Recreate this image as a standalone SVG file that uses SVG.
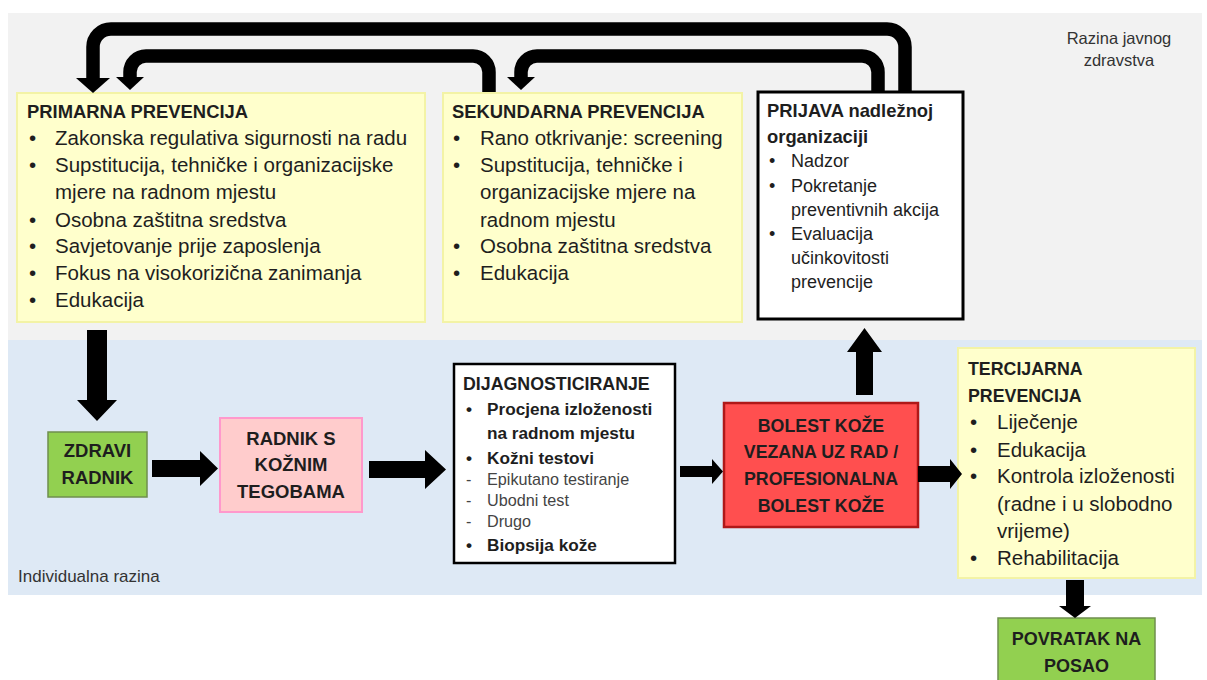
<svg xmlns="http://www.w3.org/2000/svg" width="1207" height="680" viewBox="0 0 1207 680">
<style>
text{font-family:"Liberation Sans",Arial,sans-serif;fill:#1e1e1e}
.t{font-weight:bold;font-size:18.4px}
.pt{font-weight:bold;font-size:18.4px}
.b{font-size:20.5px}
.s{font-size:18px}
.db{font-weight:bold;font-size:17.2px}
.dt{font-weight:bold;font-size:17.8px}
.sub{font-size:16.2px;fill:#444}
.c{font-weight:bold;font-size:18.5px;text-anchor:middle}
.lvl{font-size:16.5px;fill:#333}
.yel{fill:#FFFFCC;stroke:#F3F3A6;stroke-width:2}
.grn{fill:#92D050;stroke:#6F8F4E;stroke-width:1.5}
.pipe{fill:none;stroke:#000;stroke-width:13.5}
.hd{fill:#000}
</style>
<rect x="8" y="13" width="1194" height="327" fill="#F2F2F2"/>
<rect x="8" y="340" width="1194" height="255" fill="#DEE9F5"/>
<text class="lvl" x="1119" y="44" text-anchor="middle">Razina javnog</text>
<text class="lvl" x="1119" y="66" text-anchor="middle">zdravstva</text>
<text class="lvl" x="18" y="582" style="font-size:17px">Individualna razina</text>

<g id="primarna">
<rect class="yel" x="17" y="93" width="408" height="229"/>
<text class="t" x="27" y="118">PRIMARNA PREVENCIJA</text>
<text class="b" x="29" y="145">•</text><text class="b" x="55" y="145">Zakonska regulativa sigurnosti na radu</text>
<text class="b" x="29" y="172">•</text><text class="b" x="55" y="172">Supstitucija, tehničke i organizacijske</text>
<text class="b" x="55" y="199">mjere na radnom mjestu</text>
<text class="b" x="29" y="227">•</text><text class="b" x="55" y="227">Osobna zaštitna sredstva</text>
<text class="b" x="29" y="253">•</text><text class="b" x="55" y="253">Savjetovanje prije zaposlenja</text>
<text class="b" x="29" y="280">•</text><text class="b" x="55" y="280">Fokus na visokorizična zanimanja</text>
<text class="b" x="29" y="307">•</text><text class="b" x="55" y="307">Edukacija</text>
</g>

<g id="sekundarna">
<rect class="yel" x="443" y="93" width="299" height="229"/>
<text class="t" x="452" y="118">SEKUNDARNA PREVENCIJA</text>
<text class="b" x="453" y="145">•</text><text class="b" x="480" y="145">Rano otkrivanje: screening</text>
<text class="b" x="453" y="172">•</text><text class="b" x="480" y="172">Supstitucija, tehničke i</text>
<text class="b" x="480" y="199">organizacijske mjere na</text>
<text class="b" x="480" y="227">radnom mjestu</text>
<text class="b" x="453" y="253">•</text><text class="b" x="480" y="253">Osobna zaštitna sredstva</text>
<text class="b" x="453" y="280">•</text><text class="b" x="480" y="280">Edukacija</text>
</g>

<g id="prijava">
<rect x="758" y="92" width="205" height="227" fill="#fff" stroke="#000" stroke-width="3"/>
<text class="pt" x="767" y="117">PRIJAVA nadležnoj</text>
<text class="pt" x="767" y="143">organizaciji</text>
<text class="s" x="769" y="167">•</text><text class="s" x="791" y="167">Nadzor</text>
<text class="s" x="769" y="192">•</text><text class="s" x="791" y="192">Pokretanje</text>
<text class="s" x="791" y="216">preventivnih akcija</text>
<text class="s" x="769" y="240">•</text><text class="s" x="791" y="240">Evaluacija</text>
<text class="s" x="791" y="264">učinkovitosti</text>
<text class="s" x="791" y="288">prevencije</text>
</g>

<g id="zdravi">
<rect class="grn" x="48" y="432" width="99" height="65"/>
<text class="c" x="97.5" y="457">ZDRAVI</text>
<text class="c" x="97.5" y="484">RADNIK</text>
</g>

<g id="radnik">
<rect x="220" y="418" width="142" height="94" fill="#FFCCCC" stroke="#FF99CC" stroke-width="2"/>
<text class="c" x="291" y="445">RADNIK S</text>
<text class="c" x="291" y="471">KOŽNIM</text>
<text class="c" x="291" y="498">TEGOBAMA</text>
</g>

<g id="dijagnosticiranje">
<rect x="454" y="364" width="221" height="199" fill="#fff" stroke="#000" stroke-width="2.5"/>
<text class="dt" x="463" y="390">DIJAGNOSTICIRANJE</text>
<text class="db" x="466" y="415">•</text><text class="db" x="487" y="415">Procjena izloženosti</text>
<text class="db" x="487" y="439">na radnom mjestu</text>
<text class="db" x="466" y="464">•</text><text class="db" x="487" y="464">Kožni testovi</text>
<text class="sub" x="466" y="485">-</text><text class="sub" x="487" y="485">Epikutano testiranje</text>
<text class="sub" x="466" y="506">-</text><text class="sub" x="487" y="506">Ubodni test</text>
<text class="sub" x="466" y="527">-</text><text class="sub" x="487" y="527">Drugo</text>
<text class="db" x="466" y="551">•</text><text class="db" x="487" y="551">Biopsija kože</text>
</g>

<g id="bolest">
<rect x="724" y="403" width="194" height="124" fill="#FF4F4F" stroke="#B01818" stroke-width="2.5"/>
<text class="c" x="821" y="432" style="font-size:17.8px">BOLEST KOŽE</text>
<text class="c" x="821" y="458" style="font-size:17.8px">VEZANA UZ RAD /</text>
<text class="c" x="821" y="485" style="font-size:17.8px">PROFESIONALNA</text>
<text class="c" x="821" y="512" style="font-size:17.8px">BOLEST KOŽE</text>
</g>

<g id="tercijarna">
<rect class="yel" x="958" y="348" width="237" height="230"/>
<text class="dt" x="968" y="375">TERCIJARNA</text>
<text class="dt" x="968" y="402">PREVENCIJA</text>
<text class="b" x="970" y="429">•</text><text class="b" x="997" y="429">Liječenje</text>
<text class="b" x="970" y="457">•</text><text class="b" x="997" y="457">Edukacija</text>
<text class="b" x="970" y="483">•</text><text class="b" x="997" y="483">Kontrola izloženosti</text>
<text class="b" x="997" y="511">(radne i u slobodno</text>
<text class="b" x="997" y="538">vrijeme)</text>
<text class="b" x="970" y="565">•</text><text class="b" x="997" y="565">Rehabilitacija</text>
</g>

<g id="povratak">
<rect class="grn" x="998" y="618" width="157" height="75"/>
<text class="c" x="1076.5" y="645" style="font-size:18px">POVRATAK NA</text>
<text class="c" x="1076.5" y="672" style="font-size:18px">POSAO</text>
</g>

<g id="connectors">
<path class="pipe" d="M905,92 V47 A18,18 0 0 0 887,29 H111 A18,18 0 0 0 93,47 V79"/>
<polygon class="hd" points="76,78 110,78 93,93"/>
<path class="pipe" d="M489,92 V72 A16,16 0 0 0 473,56 H146 A16,16 0 0 0 130,72 V78"/>
<polygon class="hd" points="116,77 144,77 130,90"/>
<path class="pipe" d="M878,92 V72 A16,16 0 0 0 862,56 H537 A16,16 0 0 0 521,72 V78"/>
<polygon class="hd" points="507,77 535,77 521,90"/>
<polygon class="hd" points="87,330 107,330 107,400 117,400 97,421 77,400 87,400"/>
<polygon class="hd" points="152,460 200,460 200,451 218,468.5 200,486 200,477 152,477"/>
<polygon class="hd" points="369,461 425,461 425,450 446,469.5 425,489 425,478 369,478"/>
<polygon class="hd" points="680,466 712,466 712,459 723,471.5 712,484 712,477 680,477"/>
<polygon class="hd" points="856,395 873,395 873,352 882,352 864.5,328 847,352 856,352"/>
<polygon class="hd" points="918,466 950,466 950,459 962,474 950,489 950,482 918,482"/>
<polygon class="hd" points="1066,580 1084,580 1084,606 1091,606 1075,618 1059,606 1066,606"/>
</g>
</svg>
